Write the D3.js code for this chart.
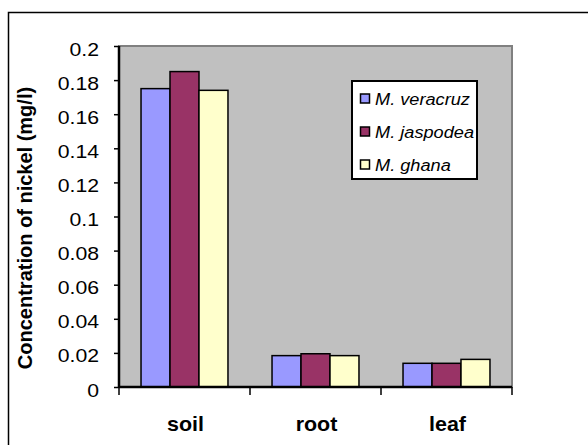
<!DOCTYPE html>
<html>
<head>
<meta charset="utf-8">
<script src="https://cdn.jsdelivr.net/npm/d3@7"></script>
<style>
  body { margin: 0; background: #fff; }
  text { font-family: "Liberation Sans", Arial, sans-serif; }
</style>
</head>
<body>
<script>
// data
var parts = ["soil", "root", "leaf"];
var species = ["M. veracruz", "M. jaspodea", "M. ghana"];
var veracruz = [0.175, 0.0184, 0.0139];
var jaspodea = [0.185, 0.0195, 0.0139];
var ghana = [0.174, 0.0184, 0.0162];
var yTicks = [0, 0.02, 0.04, 0.06, 0.08, 0.1, 0.12, 0.14, 0.16, 0.18, 0.2];
var colors = ["#9999ff", "#993366", "#ffffcc"];

var series = [veracruz, jaspodea, ghana];

var w = 588, h = 445;
var plot = {left: 119, top: 46, right: 512, bottom: 387};

var svg = d3.select("body").append("svg")
  .attr("width", w)
  .attr("height", h);

// outer chart frame
svg.append("rect")
  .attr("x", 8.5).attr("y", 12.5)
  .attr("width", 600).attr("height", 500)
  .attr("fill", "none")
  .attr("stroke", "#000")
  .attr("stroke-width", 1.5);

var x0 = d3.scaleBand()
  .domain(parts)
  .range([plot.left, plot.right]);

var x1 = d3.scaleBand()
  .domain(d3.range(species.length))
  .range([0, x0.bandwidth()])
  .paddingOuter(0.76)
  .paddingInner(0);

var y = d3.scaleLinear()
  .domain([0, 0.2])
  .range([plot.bottom, plot.top]);

// plot area
svg.append("rect")
  .attr("x", plot.left).attr("y", plot.top)
  .attr("width", plot.right - plot.left)
  .attr("height", plot.bottom - plot.top)
  .attr("fill", "#c0c0c0")
  .attr("stroke", "#808080")
  .attr("stroke-width", 2);

// bars
var rows = [];
parts.forEach(function(p, i) {
  series.forEach(function(s, j) {
    rows.push({part: p, k: j, value: s[i]});
  });
});

svg.append("g").selectAll("rect")
  .data(rows)
  .enter().append("rect")
  .attr("x", function(d) { return x0(d.part) + x1(d.k); })
  .attr("y", function(d) { return y(d.value); })
  .attr("width", x1.bandwidth())
  .attr("height", function(d) { return plot.bottom - y(d.value); })
  .attr("fill", function(d) { return colors[d.k]; })
  .attr("stroke", "#000")
  .attr("stroke-width", 1.5);

// y axis
var yAxis = svg.append("g")
  .attr("transform", "translate(" + plot.left + ",0)")
  .call(d3.axisLeft(y).tickValues(yTicks).tickSize(5)
    .tickFormat(function(d) { return String(+d.toFixed(2)); }));
yAxis.select(".domain").attr("stroke-width", 2.5).attr("d", "M0," + plot.bottom + "V" + plot.top);
yAxis.selectAll(".tick line").attr("stroke-width", 1.5);
yAxis.selectAll("text")
  .attr("x", null)
  .attr("dy", null)
  .attr("transform", "translate(-20,9) scale(1.18,1)")
  .style("font-size", "18px")
  .attr("fill", "#000");

// x axis
var xAxis = svg.append("g")
  .attr("transform", "translate(0," + plot.bottom + ")")
  .call(d3.axisBottom(x0).tickSize(0));
xAxis.select(".domain").attr("stroke-width", 2.5).attr("d", "M" + plot.left + ",0H" + plot.right);
xAxis.selectAll("text")
  .attr("y", null)
  .attr("dy", null)
  .attr("transform", "translate(1,44) scale(1.1,1)")
  .style("font-size", "19.5px")
  .style("font-weight", "bold")
  .attr("fill", "#000");

// category separator ticks
var bounds = parts.map(function(p) { return x0(p); }).concat([plot.right]);
svg.append("g").selectAll("line")
  .data(bounds)
  .enter().append("line")
  .attr("x1", function(d) { return d; })
  .attr("x2", function(d) { return d; })
  .attr("y1", plot.bottom)
  .attr("y2", plot.bottom + 8)
  .attr("stroke", "#000")
  .attr("stroke-width", 1.5);

// y axis title
svg.append("text")
  .attr("transform", "translate(32,228) rotate(-90)")
  .attr("text-anchor", "middle")
  .style("font-size", "20px")
  .style("font-weight", "bold")
  .text("Concentration of nickel (mg/l)");

// legend
var legend = svg.append("g").attr("transform", "translate(352,81)");
legend.append("rect")
  .attr("x", 0).attr("y", 0)
  .attr("width", 125).attr("height", 98)
  .attr("fill", "#fff")
  .attr("stroke", "#000")
  .attr("stroke-width", 2);

var item = legend.selectAll("g.item")
  .data(species)
  .enter().append("g")
  .attr("class", "item")
  .attr("transform", function(d, i) { return "translate(0," + (17.5 + i * 33) + ")"; });

item.append("rect")
  .attr("x", 8.5).attr("y", -4.5)
  .attr("width", 9).attr("height", 9)
  .attr("fill", function(d, i) { return colors[i]; })
  .attr("stroke", "#000")
  .attr("stroke-width", 1.5);

item.append("text")
  .attr("transform", "translate(23,6) scale(1.07,1)")
  .style("font-size", "17px")
  .style("font-style", "italic")
  .text(function(d) { return d; });
</script>
</body>
</html>
